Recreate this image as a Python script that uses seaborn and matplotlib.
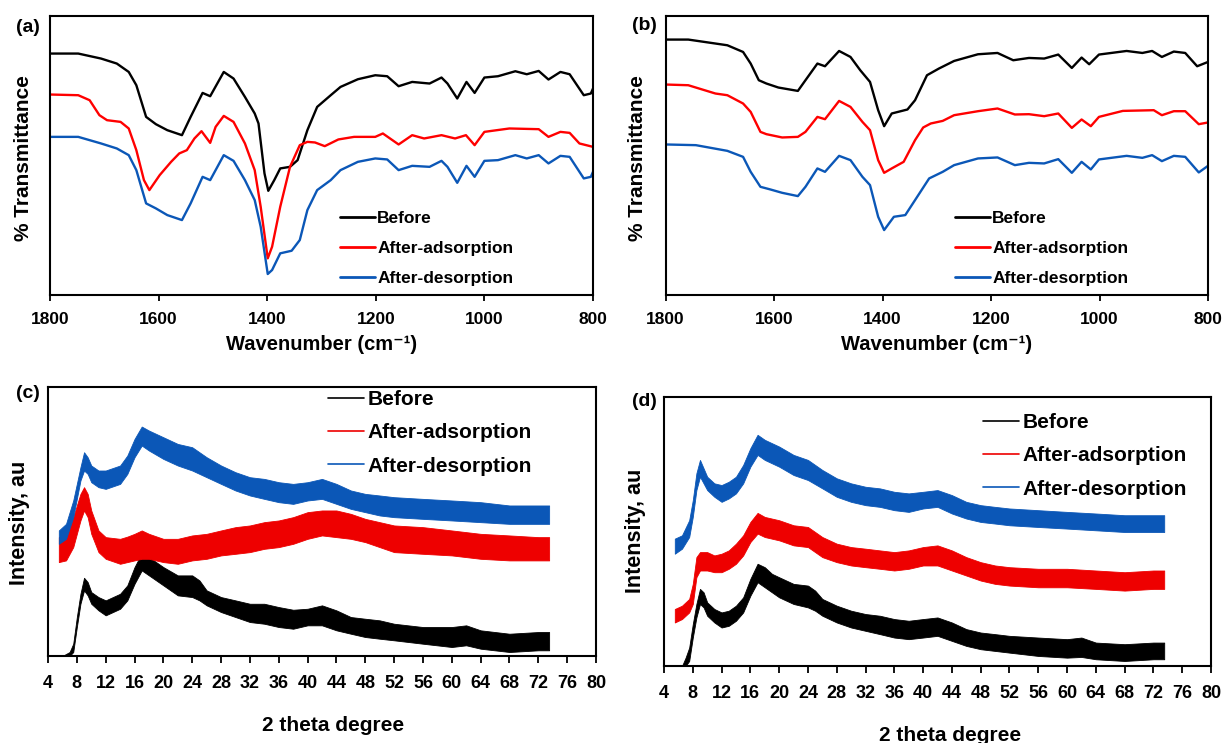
import numpy as np
import pandas as pd
import seaborn as sns
import matplotlib.pyplot as plt
from matplotlib.lines import Line2D

# ---------------- FTIR data (panel a) ----------------
wn_a_before = [1800, 1748, 1706, 1677, 1655, 1641, 1623, 1605, 1584, 1557, 1541, 1519, 1505, 1480, 1462,
               1441, 1423, 1416, 1405, 1398, 1387, 1376, 1358, 1344, 1326, 1308, 1283, 1265, 1233, 1201,
               1179, 1158, 1133, 1101, 1079, 1068, 1050, 1033, 1018, 1000, 975, 943, 922, 900, 882, 860,
               843, 817, 804, 800]
t_a_before = [241.7, 241.7, 236.7, 231.7, 223.3, 210, 178.3, 171, 165, 160, 178.3, 202.3, 199, 223.3, 216.7,
              198.3, 181.7, 171.7, 121.7, 104.3, 115, 126.7, 128.3, 135, 165, 188.3, 200, 208.3, 216, 220,
              219, 209, 213.3, 211.7, 217.7, 211.7, 196.7, 213.3, 202.3, 217.7, 219, 224, 221, 224.3, 215.7,
              223.3, 221, 200, 201.7, 206.7]

wn_a_ads = [1800, 1748, 1727, 1709, 1695, 1670, 1655, 1641, 1627, 1617, 1598, 1577, 1562, 1548, 1534, 1521,
            1505, 1495, 1480, 1462, 1441, 1423, 1412, 1399, 1391, 1376, 1358, 1340, 1326, 1312, 1294, 1269,
            1240, 1201, 1187, 1158, 1133, 1111, 1079, 1054, 1034, 1018, 1000, 954, 900, 882, 860, 843, 825, 800]
t_a_ads = [200.7, 200, 195, 180, 175, 173.3, 166.7, 145, 115, 105, 120, 133.3, 141.7, 145, 156.7, 164,
           152.3, 168.3, 179.3, 173.3, 151.7, 125, 88.3, 36.7, 48.3, 88.3, 128.3, 150, 153.3, 152.7, 149, 155.7,
           158.3, 158.3, 161.7, 150.7, 160, 156.7, 160, 156.7, 160, 150, 163.3, 166.7, 166, 158.3, 163.3, 162.3,
           151.7, 148.3]

wn_a_des = [1800, 1748, 1706, 1677, 1655, 1641, 1623, 1605, 1584, 1557, 1541, 1519, 1505, 1480, 1462, 1441,
            1423, 1412, 1399, 1391, 1376, 1355, 1340, 1326, 1308, 1283, 1265, 1233, 1201, 1179, 1158, 1133,
            1101, 1079, 1068, 1050, 1033, 1018, 1000, 975, 943, 922, 900, 882, 860, 843, 817, 804, 800]
t_a_des = [158.3, 158.3, 151.7, 146.7, 140, 125, 91.7, 86.7, 80, 75, 91.7, 118.3, 115, 140, 134.3, 115,
           95, 68.3, 21, 25, 41.7, 44.3, 55, 85, 105, 115, 125, 133.3, 136.7, 135.7, 125, 129.3,
           128.3, 134.3, 128.3, 112.3, 129.3, 118.3, 134.3, 135, 140, 136.7, 140, 131.7, 139.3, 138.3, 116.7,
           118.3, 123.3]

# ---------------- FTIR data (panel b) ----------------
wn_b_before = [1800, 1758, 1715, 1686, 1657, 1643, 1628, 1614, 1592, 1556, 1542, 1520, 1506, 1480, 1459,
               1441, 1423, 1408, 1397, 1383, 1354, 1340, 1318, 1296, 1268, 1224, 1188, 1159, 1130, 1102,
               1076, 1051, 1033, 1019, 1001, 950, 921, 903, 885, 863, 842, 820, 800]
t_b_before = [255.7, 255.7, 252.3, 250, 243.3, 231.7, 215, 211.7, 207.7, 204.3, 215, 231.7, 229, 244.3, 238.3,
              225, 213.3, 185, 169, 181.7, 185.7, 195, 220, 226.7, 234.3, 241, 242.3, 235, 237.3, 236.7,
              240.7, 227.3, 237.7, 231, 240.7, 244.3, 242.3, 244.3, 238.3, 243.7, 242.3, 229, 233.3]

wn_b_ads = [1800, 1758, 1708, 1686, 1657, 1643, 1625, 1614, 1585, 1556, 1542, 1520, 1506, 1480, 1459, 1437,
            1423, 1408, 1397, 1383, 1361, 1340, 1325, 1311, 1289, 1268, 1224, 1188, 1156, 1130, 1102, 1076,
            1051, 1033, 1016, 1001, 957, 900, 885, 863, 842, 817, 800]
t_b_ads = [210.7, 210, 201.7, 200, 191.7, 183.3, 163.3, 161, 157.7, 158.3, 163.3, 178.3, 176, 194.3, 188.3,
           173.3, 165, 135, 122.3, 126.7, 133.3, 155, 167.7, 171.7, 174.3, 180, 184, 186.7, 180.7, 181, 179,
           181.7, 167.3, 175.7, 169, 178.3, 184.3, 185, 180, 184, 184, 171, 172.7]

wn_b_des = [1800, 1744, 1686, 1657, 1643, 1625, 1607, 1585, 1556, 1542, 1520, 1506, 1480, 1459, 1437, 1423,
            1408, 1397, 1379, 1358, 1340, 1314, 1289, 1268, 1224, 1188, 1156, 1130, 1102, 1076, 1051, 1033,
            1016, 1001, 950, 921, 903, 885, 863, 842, 817, 800]
t_b_des = [150.7, 150, 144.3, 138.3, 123.3, 108.3, 105.7, 102.3, 99, 108.3, 126.7, 123.3, 139.3, 135, 118.3,
           110, 78.3, 65, 78.3, 80, 95, 116.7, 123.3, 130, 136.7, 137.7, 130, 132.3, 131.7, 136, 122.3,
           133.3, 125.7, 135.7, 139.3, 137.3, 140, 134, 139.3, 138.3, 122.7, 129.3]

# ---------------- XRD data (panel c): upper / lower envelope of the noisy trace ----------------
tt_c_before = [6.0, 7.0, 7.5, 8.0, 8.5, 9.0, 9.5, 10, 11, 12, 13, 14, 15, 16, 17, 18, 19, 20, 22, 24, 25,
               26, 28, 30, 32, 34, 36, 38, 40, 42, 44, 46, 48, 50, 52, 56, 60, 62, 64, 68, 72, 73.5]
hi_c_before = [0, 4, 12.3, 39, 62.3, 78.3, 74, 64, 59, 55.7, 59, 62.3, 70.7, 89, 103, 99, 94, 89, 80.7,
               80.7, 75.7, 65.7, 59, 55.7, 52.3, 52.3, 49, 46.3, 47.3, 50.7, 45.7, 39, 37.3, 35.7, 32.3, 29,
               29, 30.7, 25.7, 22.3, 24, 24]
lo_c_before = [0, 0, 4, 29, 52.3, 65.7, 60.7, 52.3, 45.7, 40.7, 44, 47.3, 55.7, 72.3, 85.7, 80.7, 75.7,
               70.7, 60.7, 59, 55.7, 50.7, 44, 39, 34, 32.3, 29, 27.3, 30.7, 30.7, 25.7, 22.3, 19, 17.3, 15.7,
               12.3, 9, 10.7, 7.3, 4, 5.7, 5.7]

tt_c = [5.5, 6.5, 7.5, 8.5, 9.0, 9.5, 10, 11, 12, 14, 15, 16, 17, 18, 20, 22, 24, 26, 28, 30, 32, 34,
        36, 38, 40, 42, 44, 46, 48, 50, 52, 56, 60, 64, 68, 72, 73.5]
hi_c_ads = [119, 122.3, 139, 162.3, 169, 162.3, 145.7, 125.7, 119, 117.3, 119.5, 122.3, 125.7, 122.3, 117.3,
            117.3, 120.7, 122.3, 125.7, 129, 130.7, 134, 135.7, 139, 144, 145.7, 145.7, 142.3, 137.3, 134,
            130.7, 129, 125.7, 122.3, 120.7, 119, 119]
lo_c_ads = [94, 95.7, 109, 135.7, 145.7, 139, 122.3, 104, 97.3, 92.3, 94, 95.7, 97.3, 97.3, 94, 92.3, 95.7,
            97.3, 100.7, 102.3, 104, 107.3, 109, 112.3, 117.3, 120.7, 119, 117.3, 114, 109, 104, 102.3, 100.7,
            97.3, 95.7, 95.7, 95.7]
hi_c_des = [125.7, 132.3, 155.7, 189, 204, 199, 190.7, 185.7, 185.7, 190.7, 200.7, 217.3, 229.7, 225.7, 219,
            212.3, 209, 199, 190.7, 184, 179, 177.3, 174, 172.3, 174, 177.3, 172.3, 165.7, 162.3, 160.7, 159,
            157.3, 155.7, 154, 150.7, 150.7, 150.7]
lo_c_des = [112.3, 117.3, 139, 175.7, 185.7, 182.3, 174, 169, 167.3, 172.3, 182.3, 199, 210.7, 205.7, 197.3,
            190.7, 185.7, 179, 172.3, 165.7, 160.7, 157.3, 154, 152.3, 155.7, 157.3, 152.3, 147.3, 144, 140.7,
            139, 137.3, 135.7, 134, 132.3, 132.3, 132.3]

# ---------------- XRD data (panel d) ----------------
tt_d_before = [6.5, 7.0, 7.5, 8.0, 8.5, 9.0, 9.5, 10, 11, 12, 13, 14, 15, 16, 17, 18, 19, 20, 22, 24, 25,
               26, 28, 30, 32, 34, 36, 38, 40, 42, 44, 46, 48, 50, 52, 56, 60, 62, 64, 68, 72, 73.5]
hi_d_before = [0, 8.3, 18.3, 41.7, 61.7, 76.7, 73.3, 63.3, 56.7, 53.3, 55, 60, 68.3, 86.7, 101.7, 98.3, 91.7,
               88.3, 81.7, 80, 75, 66.7, 60, 55, 51.7, 50, 46.7, 45, 46.7, 48.3, 43.3, 36.7, 33.3, 31.7, 30,
               28.3, 26.7, 28.3, 23.3, 21.7, 23.3, 23.3]
lo_d_before = [0, 0, 5, 28.3, 48.3, 61.7, 58.3, 50, 43.3, 38.3, 40, 45, 53.3, 70, 83.3, 78.3, 73.3, 68.3,
               61.7, 58.3, 55, 50, 43.3, 38.3, 35, 31.7, 28.3, 26.7, 28.3, 30, 25, 20, 16.7, 15, 13.3, 10, 8.3,
               9, 6.7, 5, 6.7, 6.7]

tt_d = [5.5, 6.5, 7.5, 8.0, 8.5, 9.0, 10, 11, 12, 13, 14, 15, 16, 17, 18, 20, 22, 24, 26, 28, 30, 32,
        34, 36, 38, 40, 42, 44, 46, 48, 50, 52, 56, 60, 64, 68, 72, 73.5]
hi_d_ads = [56.7, 60, 66.7, 81.7, 108.3, 113.3, 113.3, 110, 111.7, 115, 121.7, 130, 143.3, 152.3, 148.3, 145,
            140, 138.3, 128.3, 121.7, 118.3, 116.7, 115, 113.3, 115, 118.3, 120, 115, 108.3, 103.3, 100, 98.3,
            96.7, 96.7, 95, 93.3, 95, 95]
lo_d_ads = [43.3, 46.7, 53.3, 61.7, 88.3, 95, 95, 93.3, 93.3, 96.7, 101.7, 110, 123.3, 131.7, 128.3, 125,
            120, 118.3, 108.3, 103.3, 100, 98.3, 96.7, 95, 96.7, 100, 100, 95, 90, 85, 81.7, 80, 78.3, 78.3,
            76.7, 75, 76.7, 76.7]
hi_d_des = [126.7, 130, 145, 165, 191.7, 205, 188.3, 181.7, 180, 183.3, 188.3, 200, 216.7, 230, 225, 218.3,
            210, 205, 195, 186.7, 181.7, 178.3, 176.7, 173.3, 171.7, 173.3, 175, 170, 163.3, 160, 158.3, 156.7,
            155, 153.3, 151.7, 150, 150, 150]
lo_d_des = [111.7, 116.7, 128.3, 148.3, 175, 188.3, 175, 168.3, 163.3, 166.7, 171.7, 181.7, 198.3, 210, 205,
            198.3, 190, 185, 176.7, 168.3, 163.3, 160, 158.3, 155, 153.3, 156.7, 158.3, 151.7, 146.7, 143.3,
            141.7, 140, 138.3, 136.7, 135, 133.3, 133.3, 133.3]

labels = ["Before", "After-adsorption", "After-desorption"]
ftir_ticks = [1800, 1600, 1400, 1200, 1000, 800]
xrd_ticks = list(range(4, 81, 4))

# ---------------- style ----------------
sns.set_theme(style="ticks")
plt.rcParams["font.family"] = ["Liberation Sans", "DejaVu Sans"]
plt.rcParams["font.weight"] = "bold"
plt.rcParams["axes.labelweight"] = "bold"
plt.rcParams["text.color"] = "black"
plt.rcParams["axes.labelcolor"] = "black"
plt.rcParams["xtick.color"] = "black"
plt.rcParams["xtick.labelcolor"] = "black"

BLACK, RED, BLUE = "#000000", "#ff0000", "#0b57b7"
XRED = "#ee0000"

W, H = 1225, 743
fig = plt.figure(figsize=(W / 100, H / 100), dpi=100)


def box(x0, x1, ytop, ybot):
    return [x0 / W, 1 - ybot / H, (x1 - x0) / W, (ybot - ytop) / H]


def style_axes(ax, ticklen, labelsize):
    for s in ax.spines.values():
        s.set_color("black")
        s.set_linewidth(1.5)
    ax.set_yticks([])
    ax.tick_params(axis="x", direction="out", length=ticklen, width=1.3, color="black",
                   labelsize=labelsize, pad=8.5, labelcolor="black")
    for t in ax.get_xticklabels():
        t.set_fontweight("bold")


def place_labels(ax, xl, yl, xlab_pos, ylab_pos, xsize, ysize):
    ax.set_xlabel(xl, fontsize=xsize, fontweight="bold", color="black")
    ax.set_ylabel(yl, fontsize=ysize, fontweight="bold", color="black")
    ax.xaxis.set_label_coords(*xlab_pos)
    ax.yaxis.set_label_coords(*ylab_pos)
    ax.xaxis.label.set_va("center")
    ax.yaxis.label.set_va("center")


def legend_at(ax, colors, lw, size, x_px, ytop_px, hlen, spacing):
    handles = [Line2D([], [], color=c, lw=lw) for c in colors]
    leg = ax.legend(handles, labels, loc="upper left", bbox_to_anchor=(x_px / W, 1 - ytop_px / H),
                    bbox_transform=fig.transFigure, frameon=False, borderpad=0, borderaxespad=0,
                    handlelength=hlen, handletextpad=0.15, labelspacing=spacing,
                    prop={"family": ["Liberation Sans", "DejaVu Sans"], "weight": "bold", "size": size})
    for t in leg.get_texts():
        t.set_color("black")


def ftir_panel(rect, series, xlab_pos, ylab_pos, leg_x):
    ax = fig.add_axes(rect)
    for wn, t, c in series:
        sns.lineplot(x=wn, y=t, ax=ax, color=c, linewidth=1.7, sort=False, legend=False)
    ax.set_xlim(1800, 800)
    ax.set_ylim(0, 279.3)
    ax.set_xticks(ftir_ticks)
    ax.set_xticklabels([str(v) for v in ftir_ticks])
    style_axes(ax, 4, 12.5)
    place_labels(ax, "Wavenumber (cm⁻¹)", "% Transmittance", xlab_pos, ylab_pos, 14.5, 15)
    legend_at(ax, [BLACK, RED, BLUE], 2.0, 12.5, leg_x, 211, 2.0, 0.84)
    return ax


def xrd_band(ax, x, lo, hi, color):
    df = pd.DataFrame({"x": np.concatenate([x, x]), "y": np.concatenate([lo, hi])})
    sns.lineplot(data=df, x="x", y="y", ax=ax, color=color, estimator="mean",
                 errorbar=("pi", 100), err_kws={"alpha": 1, "linewidth": 0.6},
                 linewidth=0, legend=False)


def xrd_panel(rect, bands, ymax, xlab_pos, ylab_pos, leg_x, leg_top):
    ax = fig.add_axes(rect)
    for x, lo, hi, c in bands:
        xrd_band(ax, x, lo, hi, c)
    ax.set_xlim(4, 80)
    ax.set_ylim(0, ymax)
    ax.set_xticks(xrd_ticks)
    ax.set_xticklabels([str(v) for v in xrd_ticks])
    style_axes(ax, 5, 13)
    place_labels(ax, "2 theta degree", "Intensity, au", xlab_pos, ylab_pos, 15, 15.5)
    legend_at(ax, [BLACK, XRED, BLUE], 1.2, 15, leg_x, leg_top, 1.75, 0.69)
    return ax


ftir_panel(box(50, 593, 16, 295),
           [(wn_a_before, t_a_before, BLACK), (wn_a_ads, t_a_ads, RED), (wn_a_des, t_a_des, BLUE)],
           (0.5, -0.179), (-0.0497, 0.491), 340)
ftir_panel(box(665.5, 1208, 16, 295),
           [(wn_b_before, t_b_before, BLACK), (wn_b_ads, t_b_ads, RED), (wn_b_des, t_b_des, BLUE)],
           (0.5005, -0.179), (-0.0507, 0.491), 955)

xrd_panel(box(48, 596, 387.3, 656),
          [(tt_c_before, lo_c_before, hi_c_before, BLACK), (tt_c, lo_c_ads, hi_c_ads, XRED),
           (tt_c, lo_c_des, hi_c_des, BLUE)],
          269, (0.52, -0.2605), (-0.052, 0.495), 328, 390)
xrd_panel(box(664, 1211, 397.3, 666),
          [(tt_d_before, lo_d_before, hi_d_before, BLACK), (tt_d, lo_d_ads, hi_d_ads, XRED),
           (tt_d, lo_d_des, hi_d_des, BLUE)],
          267.3, (0.523, -0.257), (-0.053, 0.502), 983, 413)

for lab, (px, py) in zip(["(a)", "(b)", "(c)", "(d)"], [(28, 27), (644, 26), (28, 394), (644, 402)]):
    fig.text(px / W, 1 - py / H, lab, ha="center", va="center", fontsize=14, fontweight="bold",
             color="black")

fig.savefig("out.png", dpi=100)
